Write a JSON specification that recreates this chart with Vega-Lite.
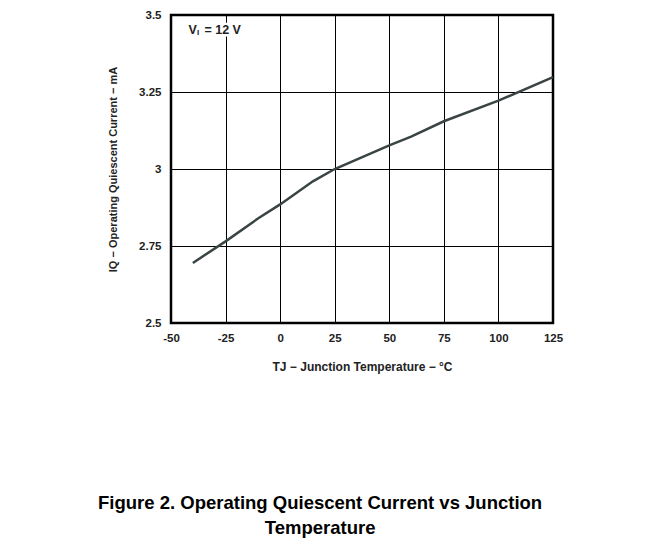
{
  "$schema": "https://vega.github.io/schema/vega-lite/v6.json",
  "autosize": {"type": "none"},
  "padding": {"left": 171, "top": 15, "right": 118, "bottom": 227},
  "width": 382,
  "height": 308,
  "background": "white",
  "title": {
    "text": ["Figure 2. Operating Quiescent Current vs Junction", "Temperature"],
    "orient": "bottom",
    "anchor": "middle",
    "frame": "bounds",
    "offset": 121,
    "dx": -15,
    "font": "Liberation Sans Narrow, Liberation Sans",
    "fontSize": 18.5,
    "fontWeight": "bold",
    "lineHeight": 25,
    "color": "#000000"
  },
  "config": {
    "view": {"stroke": "#000000", "strokeWidth": 2.5},
    "axis": {
      "labelFont": "Liberation Sans",
      "labelFontWeight": "bold",
      "labelFontSize": 11.5,
      "labelColor": "#222222",
      "labelFlush": false,
      "titleFont": "Liberation Sans",
      "titleFontWeight": "bold",
      "titleFontSize": 11,
      "titleColor": "#222222",
      "gridColor": "#000000",
      "gridOpacity": 1,
      "gridWidth": 1,
      "ticks": false,
      "domain": false,
      "labelExpr": "datum.value + ''"
    }
  },
  "datasets": {
    "curve": [
      {"t": -40, "iq": 2.695},
      {"t": -25, "iq": 2.765},
      {"t": -10, "iq": 2.84},
      {"t": 0, "iq": 2.885},
      {"t": 15, "iq": 2.96},
      {"t": 25, "iq": 3.0},
      {"t": 50, "iq": 3.077},
      {"t": 60, "iq": 3.105},
      {"t": 75, "iq": 3.155},
      {"t": 100, "iq": 3.222},
      {"t": 125, "iq": 3.298}
    ]
  },
  "layer": [
    {
      "data": {"name": "curve"},
      "mark": {"type": "line", "color": "#3a4444", "strokeWidth": 2.5},
      "encoding": {
        "x": {
          "field": "t",
          "type": "quantitative",
          "scale": {"domain": [-50, 125], "nice": false},
          "axis": {
            "values": [-50, -25, 0, 25, 50, 75, 100, 125],
            "labelPadding": 9,
            "titlePadding": 18,
            "titleFontSize": 12,
            "title": "TJ − Junction Temperature − °C"
          }
        },
        "y": {
          "field": "iq",
          "type": "quantitative",
          "scale": {"domain": [2.5, 3.5], "nice": false, "zero": false},
          "axis": {
            "values": [2.5, 2.75, 3, 3.25, 3.5],
            "labelPadding": 10,
            "titlePadding": 20,
            "title": "IQ − Operating Quiescent Current − mA"
          }
        }
      }
    },
    {
      "data": {"values": [{}]},
      "mark": {"type": "rect", "color": "white"},
      "encoding": {
        "x": {"datum": -43, "type": "quantitative"},
        "x2": {"datum": -17},
        "y": {"datum": 3.475, "type": "quantitative"},
        "y2": {"datum": 3.43}
      }
    },
    {
      "data": {"values": [{}]},
      "mark": {"type": "text", "text": "V", "align": "left", "baseline": "middle", "font": "Liberation Sans", "fontWeight": "bold", "fontSize": 12.5, "color": "#222222"},
      "encoding": {
        "x": {"datum": -42, "type": "quantitative"},
        "y": {"datum": 3.452, "type": "quantitative"}
      }
    },
    {
      "data": {"values": [{}]},
      "mark": {"type": "text", "text": "I", "align": "left", "baseline": "middle", "dx": 8.5, "dy": 3.5, "font": "Liberation Sans", "fontWeight": "bold", "fontSize": 8, "color": "#222222"},
      "encoding": {
        "x": {"datum": -42, "type": "quantitative"},
        "y": {"datum": 3.452, "type": "quantitative"}
      }
    },
    {
      "data": {"values": [{}]},
      "mark": {"type": "text", "text": "= 12 V", "align": "left", "baseline": "middle", "dx": 16, "font": "Liberation Sans", "fontWeight": "bold", "fontSize": 12.5, "color": "#222222"},
      "encoding": {
        "x": {"datum": -42, "type": "quantitative"},
        "y": {"datum": 3.452, "type": "quantitative"}
      }
    }
  ]
}
